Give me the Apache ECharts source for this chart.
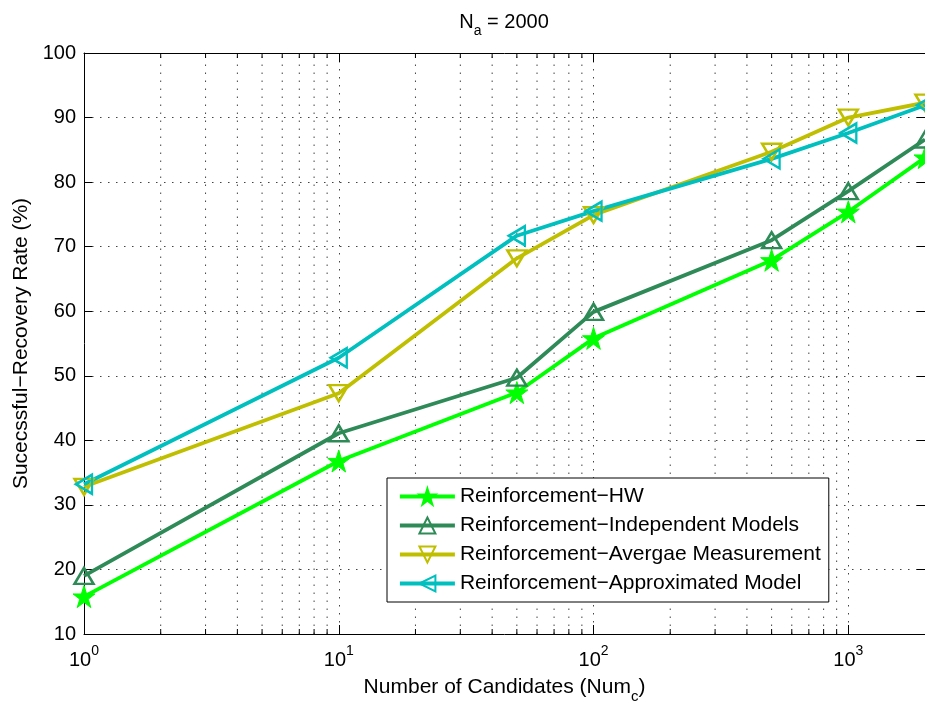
<!DOCTYPE html>
<html><head><meta charset="utf-8">
<script src="https://cdn.jsdelivr.net/npm/echarts@6/dist/echarts.min.js"></script>
<style>html,body{margin:0;padding:0;background:#fff}#c{width:925px;height:705px}</style>
</head><body><div id="c"></div>
<script>
const numCandidates = [1, 10, 50, 100, 500, 1000, 2000];
const rateHW = [15.8, 36.8, 47.4, 55.8, 67.9, 75.4, 83.8];
const rateIndependent = [19.0, 41.1, 49.7, 59.9, 71.0, 78.6, 86.6];
const rateAverage = [32.8, 47.3, 68.2, 74.9, 84.7, 90.0, 92.3];
const rateApproximated = [33.2, 52.8, 71.7, 75.5, 83.6, 87.6, 91.9];
const seriesNames = ['Reinforcement\u2212HW', 'Reinforcement\u2212Independent Models', 'Reinforcement\u2212Avergae Measurement', 'Reinforcement\u2212Approximated Model'];
const minorTickValues = [2, 3, 4, 5, 6, 7, 8, 9, 20, 30, 40, 50, 60, 70, 80, 90, 200, 300, 400, 500, 600, 700, 800, 900];
const xMin = 1, xMax = 2000, yMin = 10, yMax = 100, yInterval = 10;

const FONT = '"Liberation Sans", Arial, Helvetica, sans-serif';
const STAR = 'path://M50 0 L61.23 34.55 L97.55 34.55 L68.17 55.9 L79.39 90.45 L50 69.1 L20.61 90.45 L31.83 55.9 L2.45 34.55 L38.77 34.55 Z';

function pairs(vals) { return numCandidates.map((x, i) => [x, vals[i]]); }

function lineSeries(name, vals, color, symbol, size, rotate, filled) {
  return {
    type: 'line', name: name, data: pairs(vals),
    xAxisIndex: 0, yAxisIndex: 0,
    symbol: symbol, symbolSize: size, symbolRotate: rotate, showSymbol: true,
    lineStyle: { color: color, width: 3.8 },
    itemStyle: filled ? { color: color, borderColor: color, borderWidth: 1 }
                      : { color: 'rgba(255,255,255,0)', borderColor: color, borderWidth: 2.5 },
    emphasis: { disabled: true },
    z: 5
  };
}

const chart = echarts.init(document.getElementById('c'), null, { renderer: 'canvas' });
const gridDash = [1.5, 6.5];
chart.setOption({
  animation: false,
  backgroundColor: '#fff',
  textStyle: { fontFamily: FONT },
  title: {
    text: '{n|N}{s|a}{n| = 2000}',
    left: 504, top: 12, textAlign: 'center', padding: 0,
    textStyle: {
      fontWeight: 'normal',
      rich: {
        n: { fontSize: 20, lineHeight: 20, color: '#000', fontFamily: FONT, fontWeight: 'normal' },
        s: { fontSize: 14, lineHeight: 14, color: '#000', fontFamily: FONT, fontWeight: 'normal', padding: [18, 0, 0, 0] }
      }
    }
  },
  grid: { left: 84, top: 53, right: 0, bottom: 71, containLabel: false, outerBoundsMode: 'none' },
  legend: {
    data: seriesNames,
    orient: 'vertical', left: 387, top: 478,
    padding: [8, 8, 8, 11],
    itemWidth: 55, itemHeight: 20, itemGap: 8,
    backgroundColor: '#fff', borderColor: '#000', borderWidth: 1,
    selectedMode: false,
    lineStyle: { width: 3.8 },
    textStyle: { fontSize: 21, color: '#000', fontFamily: FONT, lineHeight: 20 },
    z: 20
  },
  xAxis: [{
    type: 'log', logBase: 10, min: xMin, max: xMax, position: 'bottom',
    axisLine: { show: true, lineStyle: { color: '#000', width: 1 } },
    axisTick: { show: true, inside: true, length: 9, lineStyle: { color: '#000' } },
    axisLabel: {
      margin: 16, showMaxLabel: false, showMinLabel: true,
      formatter: function (v) {
        const e = Math.round(Math.log10(v));
        if (Math.abs(Math.pow(10, e) - v) > 1e-6 * v) return '';
        return '{b|10}{s|' + e + '}';
      },
      rich: {
        b: { fontSize: 20, lineHeight: 20, color: '#000', fontFamily: FONT },
        s: { fontSize: 14, lineHeight: 14, color: '#000', fontFamily: FONT, padding: [0, 0, 18, 0] }
      }
    },
    splitLine: { show: true, lineStyle: { color: '#444', width: 1, type: gridDash } },
    name: '{n|Number of Candidates (Num}{c|c}{n|)}',
    nameLocation: 'middle', nameGap: 43, nameMoveOverlap: false,
    nameTextStyle: {
      rich: {
        n: { fontSize: 21, lineHeight: 21, color: '#000', fontFamily: FONT },
        c: { fontSize: 15, lineHeight: 15, color: '#000', fontFamily: FONT, padding: [18, 0, 0, 0] }
      }
    }
  }, {
    type: 'log', logBase: 10, min: xMin, max: xMax, position: 'top',
    axisLine: { show: true, lineStyle: { color: '#000', width: 1 } },
    axisTick: { show: true, inside: true, length: 9, lineStyle: { color: '#000' } },
    axisLabel: { show: false },
    splitLine: { show: false }
  }],
  yAxis: [{
    type: 'value', min: yMin, max: yMax, interval: yInterval, position: 'left',
    axisLine: { show: true, lineStyle: { color: '#000', width: 1 } },
    axisTick: { show: true, inside: true, length: 8, lineStyle: { color: '#000' } },
    axisLabel: { fontSize: 20, color: '#000', margin: 8, fontFamily: FONT },
    splitLine: { show: true, lineStyle: { color: '#444', width: 1, type: gridDash } },
    name: 'Sucecssful\u2212Recovery Rate (%)',
    nameLocation: 'middle', nameGap: 50, nameRotate: 90,
    nameTextStyle: { fontSize: 21, color: '#000', fontFamily: FONT }
  }, {
    type: 'value', min: yMin, max: yMax, interval: yInterval, position: 'right',
    axisLine: { show: true, lineStyle: { color: '#000', width: 1 } },
    axisTick: { show: true, inside: true, length: 8, lineStyle: { color: '#000' } },
    axisLabel: { show: false },
    splitLine: { show: false }
  }],
  series: [
    {
      type: 'custom', name: 'minorGrid', silent: true, z: 1,
      xAxisIndex: 0, yAxisIndex: 0,
      data: minorTickValues.map(v => [v, yMin]),
      encode: { x: 0, y: 1 },
      renderItem: function (params, api) {
        const v = api.value(0);
        const b = api.coord([v, yMin]);
        const t = api.coord([v, yMax]);
        return {
          type: 'group', children: [
            { type: 'line', shape: { x1: b[0], y1: b[1], x2: t[0], y2: t[1] }, style: { stroke: '#444', lineWidth: 1, lineDash: gridDash } },
            { type: 'line', shape: { x1: b[0], y1: b[1], x2: b[0], y2: b[1] - 5 }, style: { stroke: '#000', lineWidth: 1 } },
            { type: 'line', shape: { x1: t[0], y1: t[1], x2: t[0], y2: t[1] + 5 }, style: { stroke: '#000', lineWidth: 1 } }
          ]
        };
      }
    },
    lineSeries(seriesNames[0], rateHW, '#00ff00', STAR, 22, 0, true),
    lineSeries(seriesNames[1], rateIndependent, '#2e8b57', 'triangle', [19, 16], 0, false),
    lineSeries(seriesNames[2], rateAverage, '#bfbf00', 'triangle', [19, 16], 180, false),
    lineSeries(seriesNames[3], rateApproximated, '#00bfbf', 'triangle', [19, 16], 90, false)
  ]
});
</script>
</body></html>
